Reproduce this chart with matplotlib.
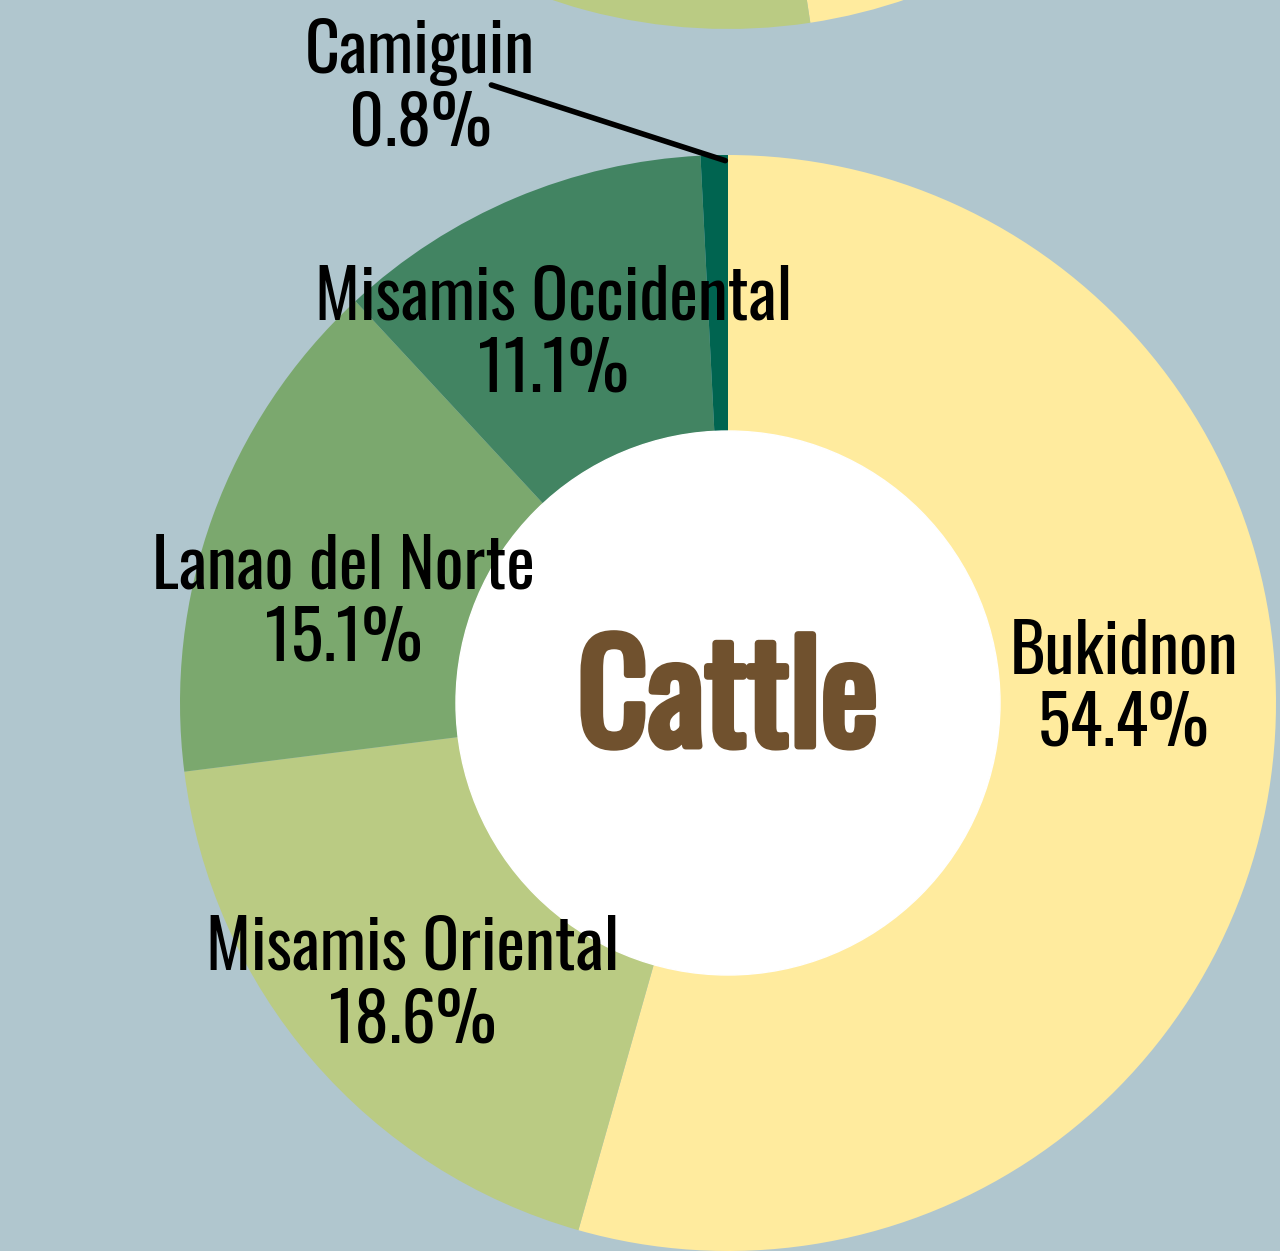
import numpy as np
import matplotlib
matplotlib.use('Agg')
import matplotlib.pyplot as plt
import matplotlib.patheffects as pe
from matplotlib import font_manager
from matplotlib.patches import Circle

# data
provinces = ['Bukidnon', 'Misamis Oriental', 'Lanao del Norte', 'Misamis Occidental', 'Camiguin']
shares = [54.4, 18.6, 15.1, 11.1, 0.8]
colors = ['#FFEB9E', '#BACB83', '#7BA86E', '#428462', '#006450']
center_label = 'Cattle'

# neighbour donut (only its bottom edge shows)
top_shares = [47.6, 52.4]
top_colors = ['#FFEB9E', '#BACB83']

BG = '#B0C6CE'

fonts = [(f.name, f.stretch, f.weight) for f in font_manager.fontManager.ttflist]
names = {n for n, _, _ in fonts}
fam, stretch = 'DejaVu Sans', 'condensed'
for cand in ['Oswald', 'Roboto Condensed', 'Liberation Sans Narrow', 'Open Sans Condensed']:
    if cand in names:
        fam, stretch = cand, 'normal'
        break
else:
    for cand in ['Noto Sans', 'Open Sans', 'Roboto']:
        st = {s for n, s, _ in fonts if n == cand}
        narrow = [s for s in ('extra-condensed', 'condensed', 'semi-condensed') if s in st]
        if narrow:
            fam, stretch = cand, narrow[0]
            break
plt.rcParams['font.family'] = [fam, 'DejaVu Sans']

# does the family have a real bold face? if not, thicken with a stroke
heavy = [w for n, _, w in fonts if n == fam and (w == 'bold' or (isinstance(w, int) and w >= 600))]
title_fx = [] if heavy else [pe.withStroke(linewidth=5, foreground='#70512E')]
title_size = 104 if heavy else 99

fig = plt.figure(figsize=(12.8, 12.51), dpi=100, facecolor=BG)
ax = fig.add_axes([0, 0, 1, 1])
ax.set_facecolor(BG)

hole = 272 / 548
wedges, _ = ax.pie(shares, colors=colors, startangle=90, counterclock=False,
                   radius=1, wedgeprops=dict(width=1 - hole, linewidth=0))
ax.add_patch(Circle((0, 0), hole, color='white', zorder=3))

ax.pie(top_shares, colors=top_colors, startangle=90, counterclock=False,
       radius=1, center=(0, 2.23), wedgeprops=dict(width=1 - hole, linewidth=0))

# label placement: mid angle, then a nudge
nudge = [(-0.02, 0.13), (-0.006, -0.026), (0.003, -0.075), (-0.027, -0.019), (-0.543, 0.372)]
for w, name, s, (dx, dy) in zip(wedges, provinces, shares, nudge):
    mid = np.deg2rad((w.theta1 + w.theta2) / 2)
    x = 0.75 * np.cos(mid) + dx
    y = 0.75 * np.sin(mid) + dy
    ax.text(x, y, f'{name}\n{s:.1f}%', ha='center', va='center', fontsize=49,
            fontstretch=stretch, linespacing=1.08, color='black', zorder=5)
    if name == 'Camiguin':
        ex, ey = 0.99 * np.cos(mid) + 0.02, 0.99 * np.sin(mid)
        ax.plot([x + 0.13, ex], [y + 0.006, ey], color='black', lw=4,
                solid_capstyle='round', zorder=5)

ax.text(0, 0.0, center_label, ha='center', va='center', fontsize=title_size,
        fontweight='bold', fontstretch=stretch, color='#70512E', zorder=5,
        path_effects=title_fx)

ax.set_xlim(-728 / 548, (1280 - 728) / 548)
ax.set_ylim(-(1251 - 703) / 548, 703 / 548)
ax.set_aspect('equal')
ax.axis('off')

fig.savefig('out.png', dpi=100, facecolor=BG)
